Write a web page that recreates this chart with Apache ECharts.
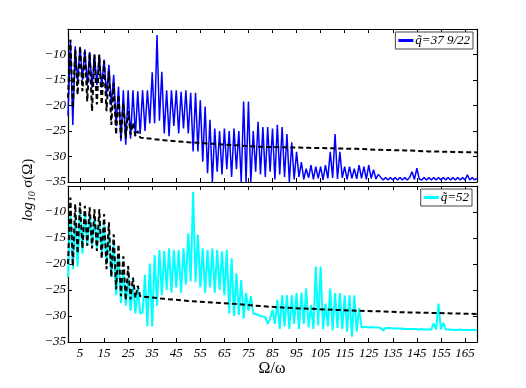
<!DOCTYPE html>
<html>
<head>
<meta charset="utf-8">
<script src="https://cdn.jsdelivr.net/npm/echarts@6/dist/echarts.min.js"></script>
<style>
  html, body { margin: 0; padding: 0; background: #fff; }
  #chart { width: 526px; height: 388px; }
</style>
</head>
<body>
<div id="chart"></div>
<script>
// spectre log10 sigma(Omega), valeurs lues a Omega = 0, 1, 2, ... 170
var blueTop = [
  -22, -7.1, -23.8, -8.4, -15.5, -8.5, -15, -9, -16, -9.5,
  -16.5, -10, -16, -10.2, -16.5, -11, -18, -12, -20, -14,
  -24, -16.3, -27, -17, -27.7, -17, -26.5, -17, -26, -17.2,
  -25.6, -17, -25, -17, -23.5, -13.5, -23.5, -6.2, -23, -13.4,
  -25.5, -17, -26, -17, -24, -17, -25.5, -17.3, -24.5, -17,
  -25.5, -17.5, -29, -17.5, -29, -19, -31, -20.2, -33.3, -22.8,
  -35, -24.5, -33, -25, -33.5, -24.5, -32.5, -25, -34, -24.5,
  -32.5, -25, -35, -19.2, -35, -19.2, -35, -25, -33, -23.2,
  -33.5, -24.2, -34, -24.2, -33, -24.5, -34.5, -23.8, -33.5, -24.2,
  -34, -25.6, -35, -27.2, -34.5, -29.1, -34, -31.1, -34.5, -32.4,
  -34.2, -31.7, -34.5, -32, -34.3, -32, -34.6, -31.7, -34.3, -29.1,
  -34.2, -25.6, -34.4, -29.1, -34.2, -32, -34.5, -32, -34.3, -32.4,
  -34.4, -31.7, -34.3, -32, -34.5, -31.7, -34.3, -32.6, -34.4, -33.5,
  -34.1, -34.6, -34.1, -34.6, -34.1, -34.6, -34.1, -34.6, -34.1, -34.6,
  -34.1, -34.6, -34.1, -33, -34.5, -32.3, -34.4, -34.6, -34.1, -34.6,
  -34.1, -34.6, -34.1, -34.6, -34.1, -34.6, -34.1, -34.6, -34.1, -34.6,
  -34.1, -34.6, -34.1, -34.6, -34.1, -34.6, -33.6, -34.6, -34.1, -34.6,
  -34.3
];

var cyanBot = [
  -22.5, -10, -21, -11, -20.5, -9.5, -18, -10, -16.5, -10.5,
  -16.5, -11, -17, -11.5, -18, -12.5, -20, -14, -22.5, -16.3,
  -26, -18.5, -27.5, -21, -28, -22.5, -29, -24, -29.5, -24.5,
  -29.5, -29.4, -22.1, -32, -19.9, -32, -18.3, -28, -17.3, -26,
  -17.5, -25, -17, -25.5, -17.3, -24.5, -17.3, -25.5, -17, -24,
  -14.1, -23.3, -6.1, -23.5, -14.4, -24.5, -17, -25.5, -17.3, -24.5,
  -17, -25.5, -17.3, -25, -17.6, -26, -17.3, -29.5, -18.9, -30,
  -21.8, -29.8, -23.1, -30.5, -25.6, -29, -26.2, -29.5, -29.6, -29.8,
  -30, -30.1, -30.2, -31.5, -30.5, -28.8, -31.5, -26.9, -32.5, -26,
  -32, -26, -32.5, -26, -31.5, -25.6, -32.5, -25.5, -31.5, -24.7,
  -32.2, -27.9, -32.5, -20.5, -31.8, -20.5, -32.5, -27.6, -32, -24.7,
  -32.8, -25.6, -32.3, -25.6, -32.5, -26, -33, -26, -34, -26,
  -33, -28.5, -32.2, -32.1, -32.1, -32.2, -32.1, -32.2, -32.2, -32.2,
  -32.3, -32.8, -32.3, -32.3, -32.3, -32.4, -32.4, -32.4, -32.4, -32.4,
  -32.5, -32.5, -32.5, -32.5, -32.5, -32.5, -32.6, -32.5, -32.6, -32.6,
  -32.6, -32.6, -31.4, -32.6, -27.6, -32.6, -31.3, -32.6, -32.6, -32.6,
  -32.7, -32.7, -32.7, -32.6, -32.7, -32.7, -32.7, -32.7, -32.7, -32.7,
  -32.7
];

// courbe en tirets : partie oscillante (Omega = 0..29) puis queue lisse
var blackTopOsc = [
  -18.5, -7.1, -20.5, -9.1, -17.9, -8.4, -17.2, -9.4, -19.2, -9.7,
  -21.1, -10, -19.8, -10, -19.8, -11.3, -21.1, -13.3, -23.8, -15.6,
  -25.7, -17.9, -26.4, -19.5, -26.4, -21.1, -25.7, -23.4, -26, -25
];
var blackBotOsc = [
  -20, -7.2, -20.4, -8.5, -18, -8.2, -17, -8.8, -16.5, -9.1,
  -17, -9.5, -17.5, -9.5, -19, -10.4, -21, -12, -22.5, -14.3,
  -24.9, -16.2, -26.2, -18.5, -27, -20.4, -26.8, -22.6, -26.5, -24.2
];
var tailOmega = [30, 40, 50, 60, 70, 80, 90, 100, 110, 120, 130, 140, 150, 160, 170];
var blackTopTail = [-26.3, -26.8, -27.2, -27.5, -27.8, -28.1, -28.2, -28.3, -28.4, -28.5, -28.7, -28.8, -29.0, -29.1, -29.2];
var blackBotTail = [-26.2, -26.7, -27.1, -27.4, -27.7, -28.1, -28.4, -28.6, -28.8, -29.0, -29.1, -29.3, -29.4, -29.5, -29.6];

var xTicks = [5, 15, 25, 35, 45, 55, 65, 75, 85, 95, 105, 115, 125, 135, 145, 155, 165];

var nameTop = 'q\u0303=37 9/22';
var nameBot = 'q\u0303=52';

function pairs(arr) {
  return arr.map(function (v, i) { return [i, v]; });
}
function dashed(osc, tail) {
  return pairs(osc).concat(tailOmega.map(function (x, i) { return [x, tail[i]]; }));
}

var serif = 'Liberation Serif';
var tickFont = { fontFamily: serif, fontStyle: 'italic', fontSize: 13, color: '#000' };

function xAx(grid, pos, labels) {
  return {
    type: 'value', gridIndex: grid, position: pos, min: 0, max: 170,
    axisLine: { show: true, onZero: false, lineStyle: { color: '#000', width: 1.2 } },
    axisTick: { show: true, inside: true, length: 4, customValues: xTicks, lineStyle: { color: '#000' } },
    axisLabel: Object.assign({ show: labels, margin: 5, customValues: xTicks }, tickFont),
    splitLine: { show: false }
  };
}
function yAx(grid, pos, labels) {
  return {
    type: 'value', gridIndex: grid, position: pos, min: -35, max: -5, interval: 5,
    axisLine: { show: true, onZero: false, lineStyle: { color: '#000', width: 1.2 } },
    axisTick: { show: true, inside: true, length: 4, lineStyle: { color: '#000' } },
    axisLabel: Object.assign({
      show: labels, margin: 2, showMaxLabel: false,
      formatter: function (v) { return '\u2212' + Math.abs(v); }
    }, tickFont),
    splitLine: { show: false }
  };
}

var chart = echarts.init(document.getElementById('chart'));
chart.setOption({
  animation: false,
  backgroundColor: '#fff',
  grid: [
    { left: 68, top: 29, width: 409, height: 153 },
    { left: 68, top: 186, width: 409, height: 156 }
  ],
  xAxis: [xAx(0, 'bottom', false), xAx(0, 'top', false), xAx(1, 'bottom', true), xAx(1, 'top', false)],
  yAxis: [yAx(0, 'left', true), yAx(0, 'right', false), yAx(1, 'left', true), yAx(1, 'right', false)],
  legend: [
    {
      data: [nameTop], right: 53, top: 32, icon: 'rect', itemWidth: 15, itemHeight: 3, itemGap: 4,
      padding: [2, 3, 2, 3], borderColor: '#444', borderWidth: 1, backgroundColor: '#fff',
      textStyle: { fontFamily: serif, fontStyle: 'italic', fontSize: 13, color: '#000', padding: [0, 0, 0, -3] }
    },
    {
      data: [nameBot], right: 54, top: 189, icon: 'rect', itemWidth: 15, itemHeight: 3, itemGap: 4,
      padding: [2, 3, 2, 3], borderColor: '#444', borderWidth: 1, backgroundColor: '#fff',
      textStyle: { fontFamily: serif, fontStyle: 'italic', fontSize: 13, color: '#000', padding: [0, 0, 0, -3] }
    }
  ],
  graphic: [
    {
      type: 'text', x: 28, y: 190, rotation: Math.PI / 2,
      style: {
        text: '{i|log}{s|10} {n|σ(Ω)}', align: 'center', verticalAlign: 'middle',
        rich: {
          i: { fontFamily: serif, fontStyle: 'italic', fontSize: 15, fill: '#000' },
          s: { fontFamily: serif, fontStyle: 'italic', fontSize: 10, fill: '#000', padding: [8, 0, 0, 1] },
          n: { fontFamily: serif, fontSize: 15, fill: '#000' }
        }
      }
    },
    {
      type: 'text', x: 272, y: 369,
      style: { text: 'Ω/ω', align: 'center', verticalAlign: 'middle', fontFamily: serif, fontSize: 16, fill: '#000' }
    }
  ],
  series: [
    {
      name: nameTop, type: 'line', xAxisIndex: 0, yAxisIndex: 0, showSymbol: false,
      data: pairs(blueTop), color: '#0000ff', lineStyle: { color: '#0000ff', width: 1.5 }, z: 2
    },
    {
      name: 'dashTop', type: 'line', xAxisIndex: 0, yAxisIndex: 0, showSymbol: false,
      data: dashed(blackTopOsc, blackTopTail), lineStyle: { color: '#000', width: 2, type: [5, 3] }, z: 3
    },
    {
      name: nameBot, type: 'line', xAxisIndex: 2, yAxisIndex: 2, showSymbol: false,
      data: pairs(cyanBot), color: '#00ffff', lineStyle: { color: '#00ffff', width: 2 }, z: 2
    },
    {
      name: 'dashBot', type: 'line', xAxisIndex: 2, yAxisIndex: 2, showSymbol: false,
      data: dashed(blackBotOsc, blackBotTail), lineStyle: { color: '#000', width: 2, type: [5, 3] }, z: 3
    }
  ]
});
</script>
</body>
</html>
